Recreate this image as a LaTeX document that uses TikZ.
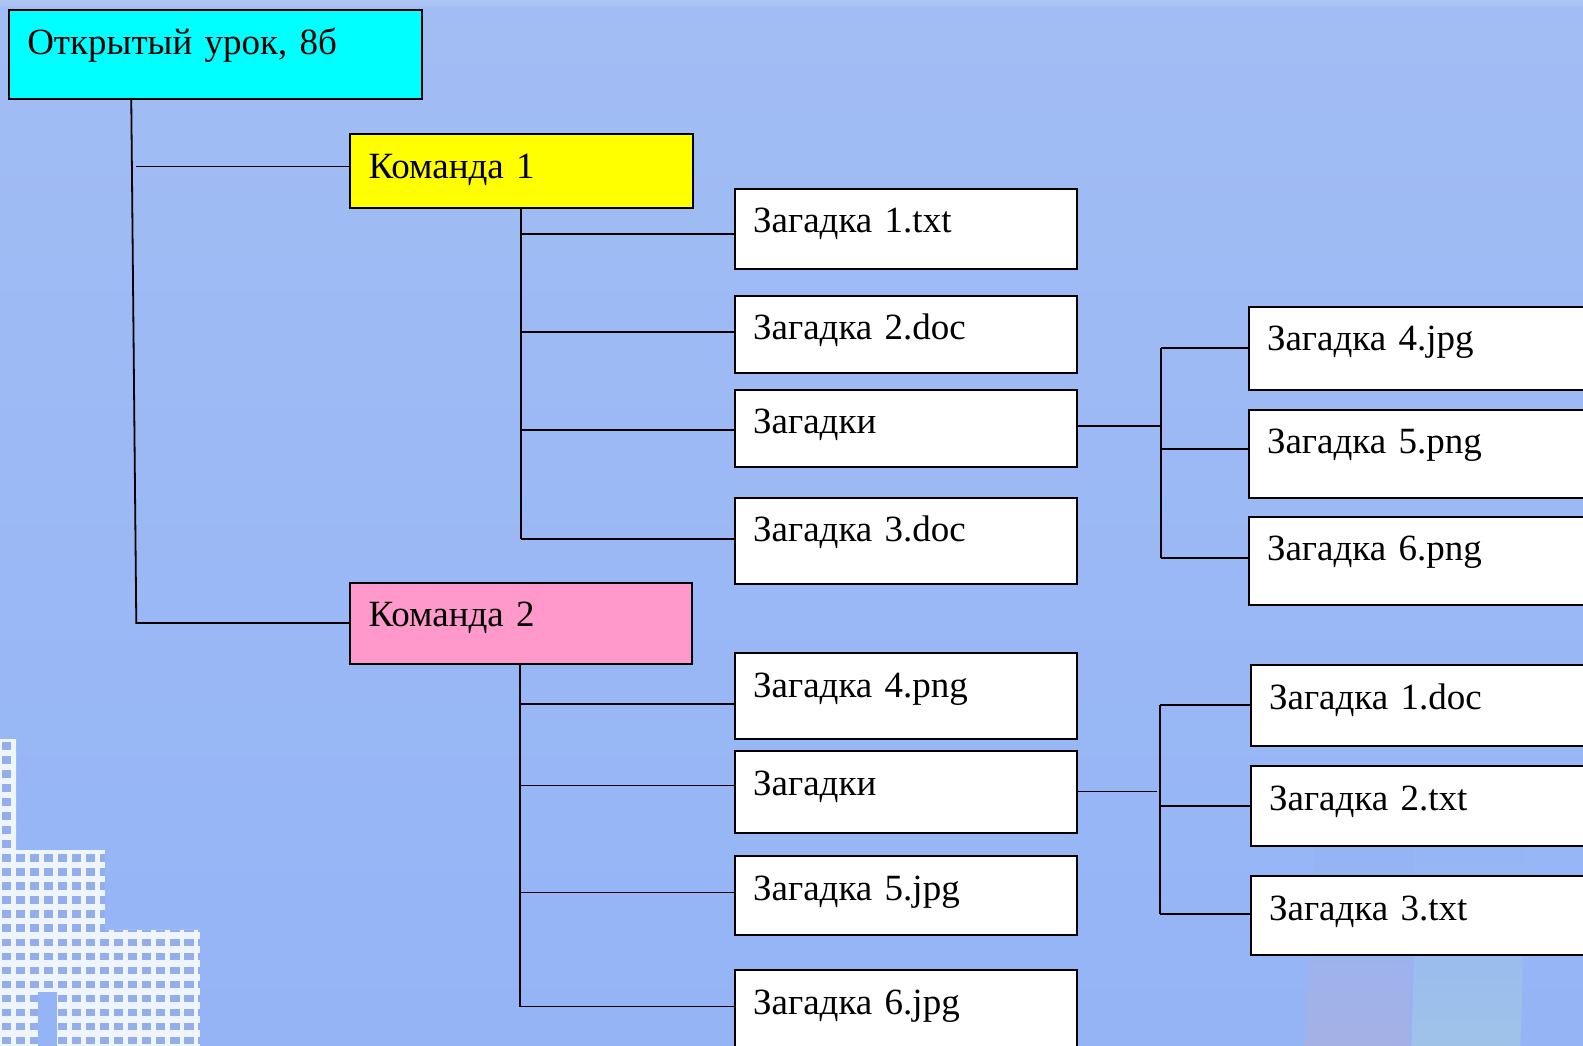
\documentclass[tikz,border=0pt]{standalone}
\usepackage{fontspec}
\setmainfont{Liberation Serif}
\usetikzlibrary{calc}
\definecolor{bgtop}{HTML}{A2BDF4}
\definecolor{bgbot}{HTML}{94B4F6}
\definecolor{bldg}{HTML}{EEF5FF}
\definecolor{win}{HTML}{93AEEB}
\definecolor{cyanbox}{HTML}{00FFFF}
\definecolor{yellowbox}{HTML}{FFFF00}
\definecolor{pinkbox}{HTML}{FF99CC}
\definecolor{colA}{HTML}{ABB1E0}
\definecolor{colB}{HTML}{A3C8E4}
\tikzset{
  box/.style={draw=black,line width=2pt,anchor=north west,inner xsep=18.2pt,inner ysep=0pt,
    align=left,font=\fontsize{37}{40}\selectfont},
  conn/.style={draw=black,line width=1.8pt},
}
\newcommand\bx[7]{%
  \pgfmathsetmacro\bxtw{(#4)*1.0096-2*18.2}%
  \pgfmathsetmacro\bxtd{(#5)*1.0096-44}%
  \node[box,fill=#6,text width=\bxtw pt,text height=44pt,text depth=\bxtd pt] (#1) at (#2,#3) {#7};}
\begin{document}
\begin{tikzpicture}[x=1.0096pt,y=-1.0096pt]
\useasboundingbox (0,0) rectangle (1568,1036);
\clip (0,0) rectangle (1568,1036);
% background
\shade[top color=bgtop,bottom color=bgbot] (0,0) rectangle (1568,1036);
\fill[white,opacity=0.12] (0,0) rectangle (1568,6);
% columns bottom right
\shade[top color=bgbot,bottom color=colA,opacity=0.75] (1302,835) -- (1400,835) -- (1396,1036) -- (1292,1036) -- cycle;
\shade[top color=bgbot,bottom color=colB,opacity=0.75] (1404,835) -- (1512,835) -- (1506,1036) -- (1398,1036) -- cycle;
% buildings bottom left
\begin{scope}
\path[clip] (0,732) -- (16,732) -- (16,842) -- (104,842) -- (104,921) -- (198,921) -- (198,1036)
  -- (56,1036) -- (56,983) -- (38,983) -- (38,1036) -- (0,1036) -- cycle;
\fill[bldg] (0,720) rectangle (200,1036);
\foreach \i in {0,...,14} {
  \foreach \j in {0,...,22} {
    \fill[win] ({1.5+\i*13.9},{735+\j*13.9}) rectangle +(9.5,7.5);
  }
}
\end{scope}
\fill[bgbot] (38,983) rectangle (56,1036);
% boxes
\bx{root}{8}{9}{409}{88}{cyanbox}{Открытый урок, 8б}
\bx{k1}{346}{132}{339}{73}{yellowbox}{Команда 1}
\bx{k2}{346}{576}{338}{81}{pinkbox}{Команда 2}
\bx{z1}{727}{186}{339}{79}{white}{Загадка 1.txt}
\bx{z2}{727}{292}{339}{76}{white}{Загадка 2.doc}
\bx{zs}{727}{385}{339}{77}{white}{Загадки}
\bx{z3}{727}{492}{339}{85}{white}{Загадка 3.doc}
\bx{a4}{1236}{303}{400}{82}{white}{Загадка 4.jpg}
\bx{a5}{1236}{405}{400}{87}{white}{Загадка 5.png}
\bx{a6}{1236}{511}{400}{87}{white}{Загадка 6.png}
\bx{y4}{727}{646}{339}{85}{white}{Загадка 4.png}
\bx{ys}{727}{743}{339}{81}{white}{Загадки}
\bx{y5}{727}{847}{339}{78}{white}{Загадка 5.jpg}
\bx{y6}{727}{960}{339}{100}{white}{Загадка 6.jpg}
\bx{b1}{1238}{658}{400}{80}{white}{Загадка 1.doc}
\bx{b2}{1238}{758}{400}{79}{white}{Загадка 2.txt}
\bx{b3}{1238}{867}{400}{78}{white}{Загадка 3.txt}
% root connectors
\coordinate (r0) at (130,97);
\coordinate (r1) at (135,617);
\coordinate (r2) at (135,165);
\draw[conn] (r0) -- (r1) -- (r1 -| k2.west);
\draw[conn] (r2) -- (r2 -| k1.west);
% team 1
\coordinate (p0) at (516,205);
\coordinate (p1) at (516,232);
\coordinate (p2) at (516,329);
\coordinate (p3) at (516,426);
\coordinate (p4) at (516,534);
\draw[conn] (p0) -- (p4);
\draw[conn] (p1) -- (p1 -| z1.west);
\draw[conn] (p2) -- (p2 -| z2.west);
\draw[conn] (p3) -- (p3 -| zs.west);
\draw[conn] (p4) -- (p4 -| z3.west);
% riddles 1
\coordinate (s0) at (1150,422);
\coordinate (s1) at (1150,345);
\coordinate (s2) at (1150,445);
\coordinate (s3) at (1150,553);
\draw[conn] (s0 -| zs.east) -- (s0);
\draw[conn] (s1) -- (s3);
\draw[conn] (s1) -- (s1 -| a4.west);
\draw[conn] (s2) -- (s2 -| a5.west);
\draw[conn] (s3) -- (s3 -| a6.west);
% team 2
\coordinate (q0) at (515,657);
\coordinate (q1) at (515,697);
\coordinate (q2) at (515,778);
\coordinate (q3) at (515,884);
\coordinate (q4) at (515,997);
\draw[conn] (q0) -- (q4);
\draw[conn] (q1) -- (q1 -| y4.west);
\draw[conn] (q2) -- (q2 -| ys.west);
\draw[conn] (q3) -- (q3 -| y5.west);
\draw[conn] (q4) -- (q4 -| y6.west);
% riddles 2
\coordinate (t0) at (1146,784);
\coordinate (t1) at (1149,698);
\coordinate (t2) at (1149,798);
\coordinate (t3) at (1149,905);
\draw[conn] (t0 -| ys.east) -- (t0);
\draw[conn] (t1) -- (t3);
\draw[conn] (t1) -- (t1 -| b1.west);
\draw[conn] (t2) -- (t2 -| b2.west);
\draw[conn] (t3) -- (t3 -| b3.west);
\end{tikzpicture}
\end{document}
